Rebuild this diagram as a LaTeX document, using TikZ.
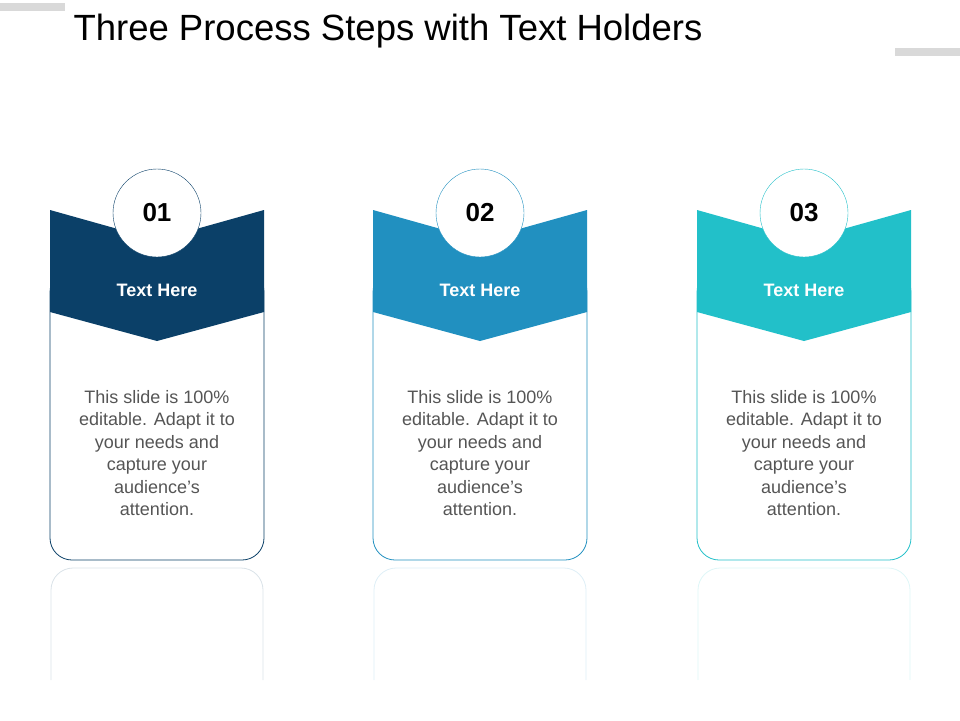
\documentclass[tikz,border=0pt]{standalone}
\usepackage{fontspec}
\setmainfont{Liberation Sans}
\usetikzlibrary{positioning}
\definecolor{stepA}{HTML}{0B4068}
\definecolor{stepB}{HTML}{2190C0}
\definecolor{stepC}{HTML}{22C0C9}
\definecolor{bodygray}{HTML}{555555}
\tikzset{
  card/.style={draw=#1, line width=0.8pt, rounded corners=22pt, fill=white},
  banner/.style={fill=#1},
  numcircle/.style={circle, draw=#1, fill=white, minimum size=88pt, inner sep=0pt, font=\fontsize{26}{28}\selectfont\bfseries},
  headtext/.style={text=white, font=\fontsize{18}{20}\selectfont\bfseries},
  bodytext/.style={text=bodygray, align=center, font=\fontsize{18}{22.5}\selectfont},
}
\begin{document}
\begin{tikzpicture}[x=1pt,y=-1pt]
	\useasboundingbox (0,0) rectangle (960,720);
	\fill[gray!30] (0,3) rectangle (65,11);
	\fill[gray!30] (895,48) rectangle (960,56);
	\node[anchor=west, font=\fontsize{36.5}{40}\selectfont] (title) at (70,31) {Three Process Steps with Text Holders};
	
	\foreach \i/\cx/\col in {1/157/stepA, 2/480/stepB, 3/804/stepC} {
		% reflection
		\draw[\col!15, line width=0.8pt, rounded corners=22pt] (\cx-106,680) -- (\cx-106,568) -- (\cx+106,568) -- (\cx+106,680);
		% card
		\draw[card=\col] (\cx-107,270) rectangle (\cx+107,560);
		\fill[banner=\col] (\cx-107,210) -- (\cx,240) -- (\cx+107,210) -- (\cx+107,312) -- (\cx,341) -- (\cx-107,312) -- cycle;
		\node[numcircle=\col] (num\i) at (\cx,213) {0\i};
		\node[headtext] (head\i) at (\cx,290) {Text Here};
		\node[bodytext] (body\i) at (\cx,453) {This slide is 100\%\\editable. Adapt it to\\your needs and\\capture your\\audience's\\attention.};
	}
\end{tikzpicture}
\end{document}
